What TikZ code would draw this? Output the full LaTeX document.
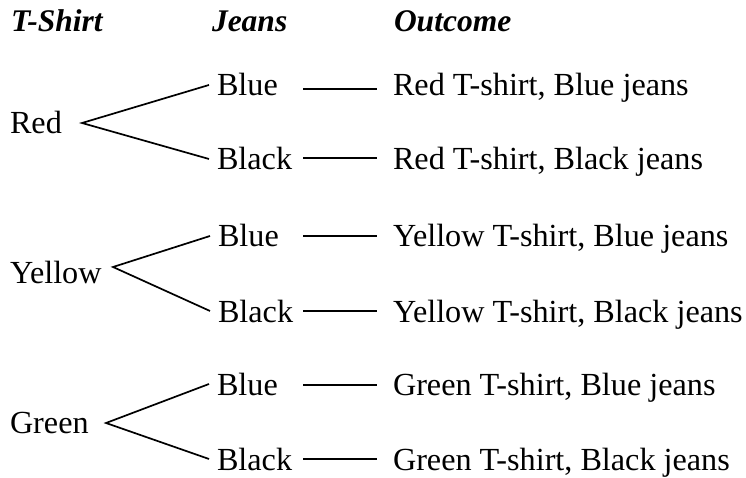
\documentclass[tikz,border=0pt]{standalone}
\usepackage{fontspec}
\setmainfont{Liberation Serif}
\begin{document}
\begin{tikzpicture}[x=1pt,y=-1pt,
  txt/.style={inner sep=0pt, outer sep=0pt, anchor=base west, font=\fontsize{32.2}{38}\selectfont},
  head/.style={inner sep=0pt, outer sep=0pt, anchor=base west, font=\fontsize{31.5}{37}\selectfont\bfseries\itshape},
  jean/.style={txt, inner xsep=8pt},
  outc/.style={txt, inner xsep=16pt},
  link/.style={line width=1.7pt}]
\useasboundingbox (0,0) rectangle (746,478);
% headers
\node[head] (h1) at (11,32) {T-Shirt};
\node[head] (h2) at (212,32) {Jeans};
\node[head] (h3) at (394,32) {Outcome};
% shirts
\node[txt] (red) at (10,134) {Red};
\node[txt] (yel) at (10,283) {Yellow};
\node[txt] (gre) at (10,433) {Green};
% jeans
\node[jean] (b1) at (209,96) {Blue};
\node[jean] (k1) at (209,170) {Black};
\node[jean] (b2) at (210,247) {Blue};
\node[jean] (k2) at (210,322) {Black};
\node[jean] (b3) at (209,395) {Blue};
\node[jean] (k3) at (209,470) {Black};
% outcomes
\node[outc] (o1) at (377,96) {Red T-shirt, Blue jeans};
\node[outc] (o2) at (377,170) {Red T-shirt, Black jeans};
\node[outc] (o3) at (377,247) {Yellow T-shirt, Blue jeans};
\node[outc] (o4) at (377,322) {Yellow T-shirt, Black jeans};
\node[outc] (o5) at (377,395) {Green T-shirt, Blue jeans};
\node[outc] (o6) at (377,470) {Green T-shirt, Black jeans};
% branch vertices
\coordinate (vr) at (82,123);
\coordinate (vy) at (113,267);
\coordinate (vg) at (106,423);
\draw[link] (b1.west) -- (vr) -- (k1.west);
\draw[link] (b2.west) -- (vy) -- (k2.west);
\draw[link] (b3.west) -- (vg) -- (k3.west);
% connector starts
\coordinate (c1) at (303,89);
\coordinate (c2) at (303,158);
\coordinate (c3) at (303,236);
\coordinate (c4) at (303,311);
\coordinate (c5) at (303,385);
\coordinate (c6) at (303,459);
\draw[link] (c1) -- (c1 -| o1.west);
\draw[link] (c2) -- (c2 -| o2.west);
\draw[link] (c3) -- (c3 -| o3.west);
\draw[link] (c4) -- (c4 -| o4.west);
\draw[link] (c5) -- (c5 -| o5.west);
\draw[link] (c6) -- (c6 -| o6.west);
\end{tikzpicture}
\end{document}
